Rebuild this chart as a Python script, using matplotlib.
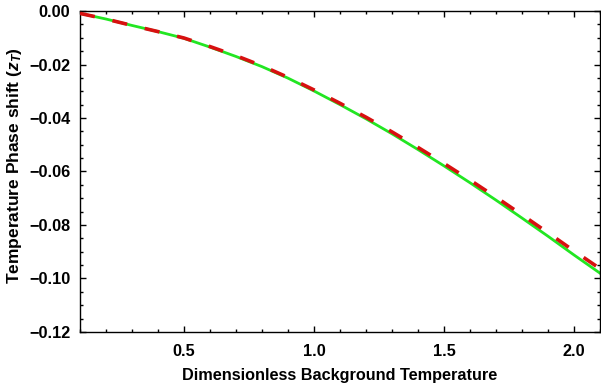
import matplotlib
matplotlib.use("Agg")
import matplotlib.pyplot as plt
from matplotlib.ticker import MultipleLocator, FuncFormatter

plt.rcParams['font.family'] = ['Liberation Sans', 'DejaVu Sans']
plt.rcParams['font.weight'] = 'bold'
plt.rcParams['mathtext.fontset'] = 'custom'
plt.rcParams['mathtext.it'] = 'Liberation Sans:italic:bold'
plt.rcParams['mathtext.rm'] = 'Liberation Sans:bold'

# Data
temperature = [0.1, 0.2, 0.3, 0.4, 0.5, 0.6, 0.7, 0.8, 0.9, 1.0, 1.1,
               1.2, 1.3, 1.4, 1.5, 1.6, 1.7, 1.8, 1.9, 2.0, 2.1]
shift_solid = [-0.0009, -0.0030, -0.0054, -0.0077, -0.0102, -0.0135, -0.0170,
               -0.0208, -0.0251, -0.0299, -0.0350, -0.0403, -0.0459, -0.0518,
               -0.0579, -0.0642, -0.0707, -0.0774, -0.0842, -0.0912, -0.0980]
shift_dashed = [-0.0009, -0.0030, -0.0054, -0.0077, -0.0101, -0.0133, -0.0167,
                -0.0205, -0.0248, -0.0295, -0.0345, -0.0397, -0.0452, -0.0510,
                -0.0570, -0.0632, -0.0696, -0.0762, -0.0829, -0.0897, -0.0963]

fig = plt.figure(figsize=(6.01, 3.86), dpi=100)
ax = fig.add_axes([0.1331, 0.1399, 0.8652, 0.8316])

ax.plot(temperature, shift_solid, color='#22e622', lw=2.0, zorder=2)
ax.plot(temperature, shift_dashed, color='#d81010', lw=2.6, zorder=3,
        dashes=(4.2, 5.0))

ax.set_xlim(0.1, 2.1)
ax.set_ylim(-0.12, 0.0)
ax.xaxis.set_major_locator(MultipleLocator(0.5))
ax.xaxis.set_minor_locator(MultipleLocator(0.1))
ax.yaxis.set_major_locator(MultipleLocator(0.02))
ax.yaxis.set_minor_locator(MultipleLocator(0.005))
ax.xaxis.set_major_formatter(FuncFormatter(lambda v, p: f'{v:.1f}'))
ax.yaxis.set_major_formatter(
    FuncFormatter(lambda v, p: f'{v:.2f}'.replace('-', '\u2212') if abs(v) > 1e-9 else '0.00'))

ax.tick_params(which='both', direction='in', top=True, right=True,
               labelsize=11.7, width=1.0, color='black')
ax.tick_params(axis='x', which='major', length=4.5, pad=9)
ax.tick_params(axis='y', which='major', length=4.5, pad=7)
ax.tick_params(which='minor', length=2.3)
for lbl in ax.get_xticklabels() + ax.get_yticklabels():
    lbl.set_fontweight('bold')
for s in ax.spines.values():
    s.set_linewidth(1.0)
    s.set_color('black')

ax.set_xlabel('Dimensionless Background Temperature', fontsize=11.7,
              fontweight='bold')
ax.xaxis.set_label_coords(0.5, -0.112)
ax.xaxis.label.set_va('top')
ax.set_ylabel('Temperature Phase shift ($z_T$)', fontsize=12.5,
              fontweight='bold', labelpad=5)
ax.yaxis.set_label_coords(-0.108, 0.52)

fig.savefig('out.png', dpi=100)
